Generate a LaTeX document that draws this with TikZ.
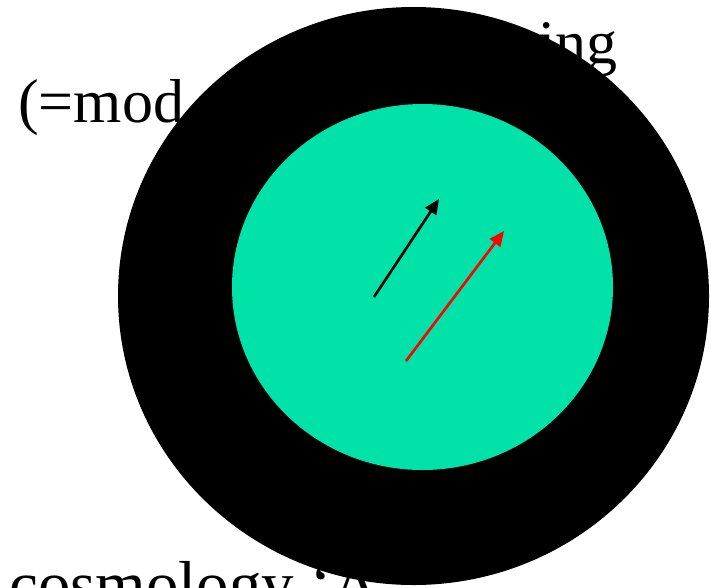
\documentclass[tikz,border=0pt]{standalone}
\usepackage{fontspec}
\setmainfont{Liberation Serif}
\usetikzlibrary{arrows.meta,shapes.geometric}
\definecolor{mint}{RGB}{0,226,168}
\begin{document}
\begin{tikzpicture}[x=1pt,y=-1pt,
  lbl/.style={anchor=base west,inner sep=0pt,font=\fontsize{62}{70}\selectfont},
  vec/.style={line width=2.6pt,-{Triangle[length=15pt,width=13pt]}}]
\useasboundingbox (0,0) rectangle (711,587);
\fill[white] (0,0) rectangle (711,587);
\node[lbl] (t1) at (538,63) {ing};
\node[lbl] (t2) at (18,122) {(=mod};
\node[lbl,font=\fontsize{65}{72}\selectfont] (t3) at (9,606) {cosmology ‘A};
\node[ellipse,fill=black,inner sep=0pt,minimum width=591pt,minimum height=578pt] (outer) at (413.5,296) {};
\node[ellipse,fill=mint,inner sep=0pt,minimum width=381pt,minimum height=366pt] (inner) at (422.5,287) {};
\coordinate (b0) at (374,297);
\coordinate (b1) at (439,199);
\coordinate (r0) at (406,361);
\coordinate (r1) at (504,231);
\draw[vec,black] (b0) -- (b1);
\draw[vec,red] (r0) -- (r1);
\end{tikzpicture}
\end{document}
